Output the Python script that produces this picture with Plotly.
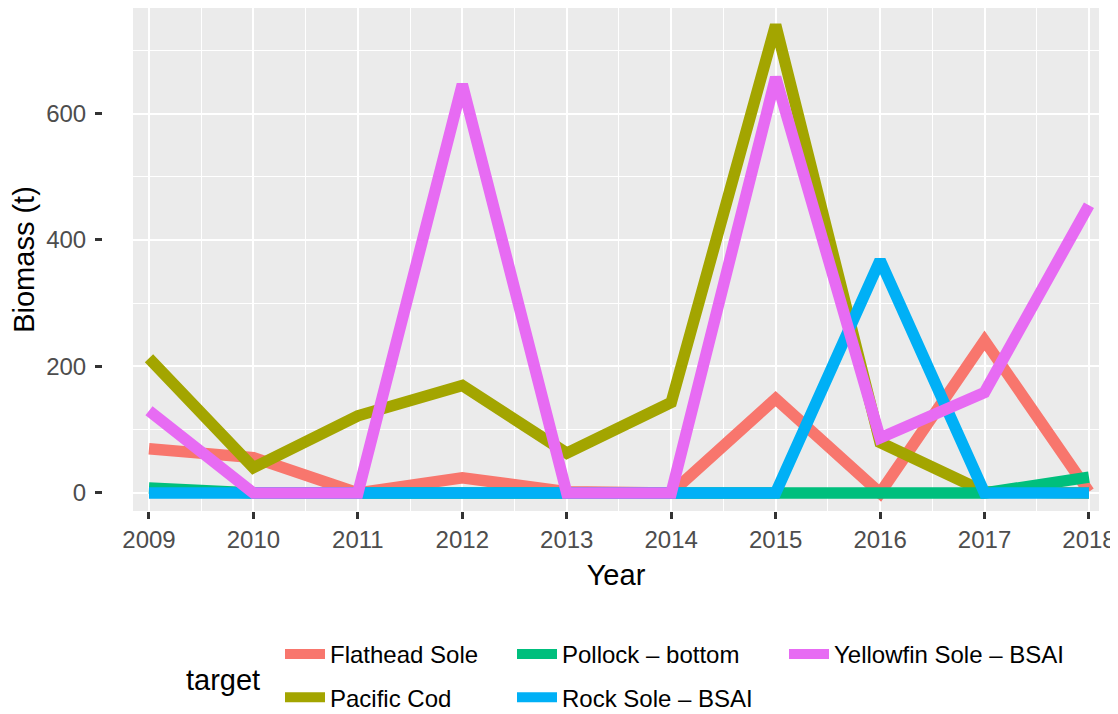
import plotly.graph_objects as go

years = [2009, 2010, 2011, 2012, 2013, 2014, 2015, 2016, 2017, 2018]

flathead_sole = [70, 56, 0, 24, 2, 0, 149, 0, 241, 2]
pacific_cod = [213, 40, 122, 170, 63, 143, 740, 80, 2, 0]
pollock_bottom = [8, 0, 0, 0, 0, 0, 0, 0, 0, 25]
rock_sole_bsai = [0, 0, 0, 0, 0, 0, 0, 368, 0, 0]
yellowfin_sole_bsai = [130, 0, 0, 646, 0, 0, 657, 87, 159, 455]

series = [
    ("Flathead Sole", flathead_sole, "#F8766D", "legend"),
    ("Pacific Cod", pacific_cod, "#A3A500", "legend"),
    ("Pollock \u2013 bottom", pollock_bottom, "#00BF7D", "legend2"),
    ("Rock Sole \u2013 BSAI", rock_sole_bsai, "#00B0F6", "legend2"),
    ("Yellowfin Sole \u2013 BSAI", yellowfin_sole_bsai, "#E76BF3", "legend3"),
]

FONT = "Liberation Sans, Arial, sans-serif"

fig = go.Figure()
for name, vals, col, lg in series:
    fig.add_trace(go.Scatter(
        x=years, y=vals, mode="lines", name=name,
        line=dict(color=col, width=11.5),
        legend=lg, legendgroup=name,
    ))

# page body has an 8px margin, so the figure is drawn 8px in from the window edge
OFF = 8
W, H = 1118 - OFF, 714 - OFF
ml, mr, mt, mb = 92, 19, 0, 203
pw = W - ml - mr
ph = H - mt - mb

panel_left = 133 - OFF
dom_start = (panel_left - ml) / pw

fig.update_layout(
    width=W, height=H,
    margin=dict(l=ml, r=mr, t=mt, b=mb, autoexpand=False),
    paper_bgcolor="white",
    plot_bgcolor="#EBEBEB",
    font=dict(family=FONT, size=24, color="black"),
    xaxis=dict(
        domain=[dom_start, 1],
        range=[2008.847, 2018.096],
        tickmode="array", tickvals=years, ticktext=[str(y) for y in years],
        showgrid=True, gridcolor="white", gridwidth=2.2,
        minor=dict(dtick=0.5, tick0=2008.5, showgrid=True, gridcolor="white", gridwidth=1.2),
        ticks="outside", ticklen=7, tickwidth=2.5, tickcolor="#333333",
        tickfont=dict(size=24, color="#4D4D4D", family=FONT),
        zeroline=False, showline=False, automargin=False,
        title=dict(text="Year", font=dict(size=29, color="black", family=FONT), standoff=12),
    ),
    yaxis=dict(
        anchor="free", position=2 / pw,
        range=[-28.5, 766.8],
        tickvals=[0, 200, 400, 600],
        showgrid=True, gridcolor="white", gridwidth=2.2,
        minor=dict(dtick=100, tick0=0, showgrid=True, gridcolor="white", gridwidth=1.2),
        ticks="outside", ticklen=7, tickwidth=2.5, tickcolor="#333333",
        tickfont=dict(size=24, color="#4D4D4D", family=FONT),
        ticklabelstandoff=4,
        zeroline=False, showline=False, automargin=False,
        title=dict(text="Biomass (t)", font=dict(size=29, color="black", family=FONT), standoff=5),
    ),
    showlegend=True,
)

leg_common = dict(orientation="v", xanchor="left", yanchor="top", bgcolor="rgba(0,0,0,0)",
                  font=dict(size=24, family=FONT, color="black"), tracegroupgap=9,
                  itemwidth=40)
ytop = (mt + ph - 624) / ph
fig.update_layout(
    legend=dict(x=(272 - ml) / pw, y=ytop, **leg_common),
    legend2=dict(x=(504 - ml) / pw, y=ytop, **leg_common),
    legend3=dict(x=(776 - ml) / pw, y=ytop, **leg_common),
)

fig.add_annotation(
    text="target", xref="paper", yref="paper",
    x=(176 - ml) / pw, y=(mt + ph - 672) / ph,
    xanchor="left", yanchor="middle", showarrow=False,
    font=dict(size=29, family=FONT, color="black"),
)

fig.write_html("out.html")
